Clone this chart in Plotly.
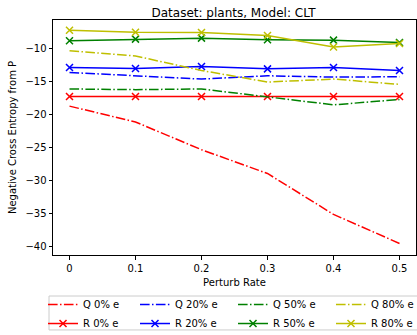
import plotly.graph_objects as go

perturb = [0, 0.1, 0.2, 0.3, 0.4, 0.5]
labels = ["0%", "20%", "50%", "80%"]
colors = ["#ff0000", "#0000ff", "#008000", "#bfbf00"]

q_vals = {
    "0%": [-18.7, -21.1, -25.3, -28.9, -35.1, -39.5],
    "20%": [-13.6, -14.1, -14.6, -14.1, -14.3, -14.25],
    "50%": [-16.1, -16.2, -16.1, -17.3, -18.5, -17.7],
    "80%": [-10.3, -11.1, -13.3, -15.05, -14.6, -15.4],
}
r_vals = {
    "0%": [-17.25, -17.25, -17.25, -17.25, -17.25, -17.25],
    "20%": [-12.85, -13.0, -12.7, -13.05, -12.85, -13.3],
    "50%": [-8.8, -8.55, -8.4, -8.65, -8.7, -9.05],
    "80%": [-7.2, -7.5, -7.55, -8.0, -9.75, -9.2],
}

legend_ids = ["legend", "legend2", "legend3", "legend4"]
legend_x = [-0.0275, 0.2259, 0.4959, 0.7658]

fig = go.Figure()
for lab, col, lid in zip(labels, colors, legend_ids):
    fig.add_trace(go.Scatter(
        x=perturb, y=q_vals[lab], mode="lines", name=f"Q {lab} e", legend=lid,
        line=dict(color=col, width=1.5, dash="9.6px,2.4px,1.5px,2.4px"),
    ))
    fig.add_trace(go.Scatter(
        x=perturb, y=r_vals[lab], mode="lines+markers", name=f"R {lab} e", legend=lid,
        line=dict(color=col, width=1.5),
        marker=dict(symbol="x-thin", size=7, line=dict(color=col, width=1.5)),
    ))

axis_common = dict(
    showgrid=False, zeroline=False, showline=True, mirror=True,
    linecolor="black", linewidth=1, ticks="outside", ticklen=3.5,
    tickcolor="black", tickfont=dict(family="DejaVu Sans", size=10, color="black"),
)
fig.update_xaxes(range=[-0.025, 0.525], tickvals=perturb,
                 ticktext=["0", "0.1", "0.2", "0.3", "0.4", "0.5"],
                 title=dict(text="Perturb Rate", standoff=6,
                            font=dict(family="DejaVu Sans", size=10, color="black")),
                 **axis_common)
fig.update_yaxes(range=[-41.25, -5.65], tickvals=[-40, -35, -30, -25, -20, -15, -10],
                 ticktext=["\u221240", "\u221235", "\u221230", "\u221225", "\u221220", "\u221215", "\u221210"],
                 title=dict(text="Negative Cross Entropy from P", standoff=6,
                            font=dict(family="DejaVu Sans", size=10, color="black")),
                 **axis_common)

legend_layout = {}
for lid, lx in zip(legend_ids, legend_x):
    legend_layout[lid] = dict(
        orientation="v", x=lx, y=-0.149, xanchor="left", yanchor="top",
        font=dict(family="DejaVu Sans", size=10, color="black"),
        bgcolor="rgba(0,0,0,0)", borderwidth=0, tracegroupgap=0, itemwidth=30,
    )

fig.update_layout(
    width=417, height=335,
    margin=dict(l=53, r=1, t=20, b=80, autoexpand=False),
    paper_bgcolor="white", plot_bgcolor="white",
    title=dict(text="Dataset: plants, Model: CLT", x=0.56, xanchor="center",
               y=0.975, yanchor="top",
               font=dict(family="DejaVu Sans", size=12, color="black")),
    showlegend=True,
    shapes=[dict(type="rect", xref="paper", yref="paper",
                 x0=-0.011, x1=1.02, y0=-0.319, y1=-0.1745,
                 line=dict(color="#cccccc", width=1), fillcolor="rgba(0,0,0,0)",
                 layer="below")],
    **legend_layout,
)

fig.write_html("out.html")
